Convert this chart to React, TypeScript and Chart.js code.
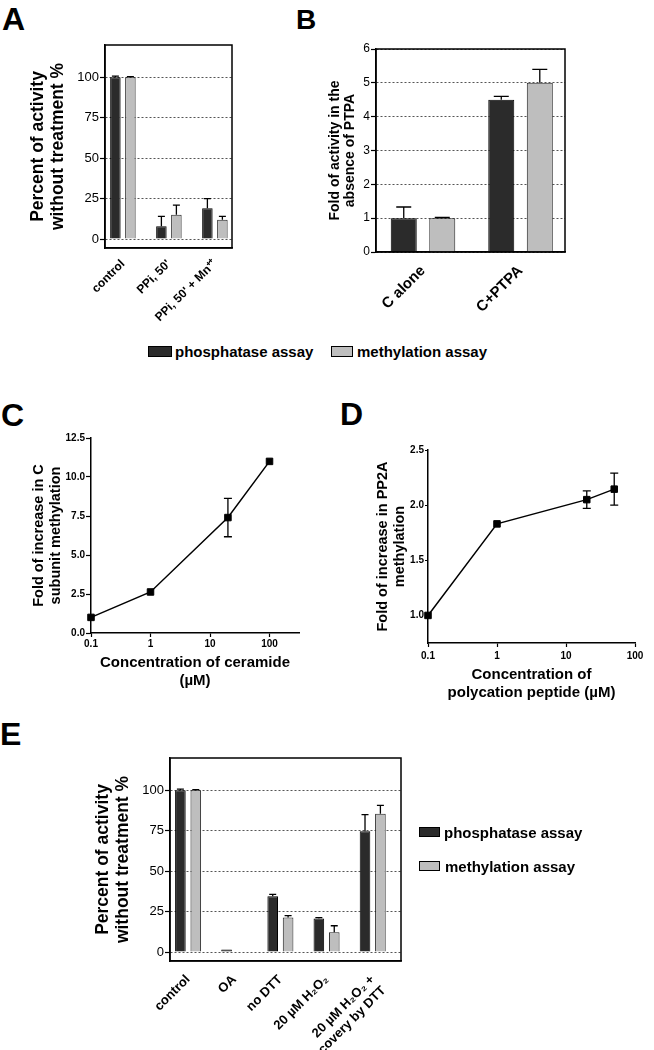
import React, { useEffect, useRef } from 'react';
import { Chart, registerables } from 'chart.js';

Chart.register(...registerables);

const FONT = "'Liberation Sans', Arial, Helvetica, sans-serif";
Chart.defaults.font.family = FONT;
Chart.defaults.color = '#000';

// ---------------- data ----------------
const seriesNames = ['phosphatase assay', 'methylation assay'];

// Panel A
const aCategories = ['control', "PPi, 50'", "PPi, 50' + Mn⁺⁺"];
const aPhosphatase = [100, 8, 19];
const aPhosphataseErr = [0.8, 6, 6];
const aMethylation = [100, 15, 12];
const aMethylationErr = [0.5, 6, 2];
const aYTicks = [0, 25, 50, 75, 100];

// Panel B
const bCategories = ['C alone', 'C+PTPA'];
const bPhosphatase = [1.0, 4.5];
const bPhosphataseErr = [0.33, 0.1];
const bMethylation = [1.0, 5.0];
const bMethylationErr = [0.02, 0.4];
const bYTicks = [0, 1, 2, 3, 4, 5, 6];

// Panel C
const cConcentration = [0.1, 1, 20, 100];
const cFold = [1.0, 2.63, 7.4, 11.0];
const cFoldErr = [0, 0, 1.23, 0];
const cXTicks = [0.1, 1, 10, 100];
const cYTicks = [0, 2.5, 5, 7.5, 10, 12.5];

// Panel D
const dConcentration = [0.1, 1, 20, 50];
const dFold = [1.0, 1.83, 2.05, 2.145];
const dFoldErr = [0, 0, 0.08, 0.145];
const dXTicks = [0.1, 1, 10, 100];
const dYTicks = [1.0, 1.5, 2.0, 2.5];

// Panel E
const eCategories: (string | string[])[] = [
  'control',
  'OA',
  'no DTT',
  '20 µM H₂O₂',
  ['20 µM H₂O₂ +', 'recovery by DTT'],
];
const ePhosphatase = [100, 1.6, 34.6, 20.8, 74.7];
const ePhosphataseErr = [0.8, 0, 1.1, 0.5, 10.3];
const eMethylation = [100, 0.3, 21.4, 12.3, 85.6];
const eMethylationErr = [0.5, 0, 1.1, 4, 5.1];
const eYTicks = [0, 25, 50, 75, 100];

const DARK = '#2b2b2b';
const LIGHT = '#bebebe';

// ---------------- plugins ----------------
const framePlugin = {
  id: 'frameBox',
  afterDatasetsDraw(chart: any) {
    const { left, top, right, bottom } = chart.chartArea;
    const ctx = chart.ctx;
    ctx.save();
    ctx.setLineDash([]);
    ctx.lineWidth = 1.5;
    ctx.strokeStyle = '#000';
    ctx.strokeRect(left, top, right - left, bottom - top);
    ctx.restore();
  },
};

function errorBarPlugin(cap: number, both: boolean) {
  return {
    id: 'errorBars',
    afterDatasetsDraw(chart: any) {
      const ctx = chart.ctx;
      const ys = chart.scales.y;
      ctx.save();
      ctx.setLineDash([]);
      ctx.strokeStyle = '#000';
      ctx.lineWidth = 1.3;
      chart.data.datasets.forEach((ds: any, di: number) => {
        const errs = ds.errorBars;
        if (!errs) return;
        const meta = chart.getDatasetMeta(di);
        meta.data.forEach((el: any, i: number) => {
          const e = errs[i];
          if (!e) return;
          const v = ds.data[i].y;
          const top = ys.getPixelForValue(v + e);
          const bot = ys.getPixelForValue(both ? v - e : v);
          const x = el.x;
          const h = cap / 2;
          ctx.beginPath();
          ctx.moveTo(x, bot);
          ctx.lineTo(x, top);
          ctx.moveTo(x - h, top);
          ctx.lineTo(x + h, top);
          if (both) {
            ctx.moveTo(x - h, bot);
            ctx.lineTo(x + h, bot);
          }
          ctx.stroke();
        });
      });
      ctx.restore();
    },
  };
}

// ---------------- config builders ----------------
type BarPanel = {
  categories: (string | string[])[];
  phos: number[];
  phosErr: number[];
  meth: number[];
  methErr: number[];
  yTicks: number[];
  yMin: number;
  yMax: number;
  xMin: number;
  xMax: number;
  yWidth: number;
  xHeight: number;
  padTop: number;
  padRight: number;
  catPct: number;
  barPct: number;
  cap: number;
  yTitle: string[];
  yTitleFont: any;
  yTitlePad: number;
  yTickFont: any;
  tickLen: number;
  tickPad: number;
  xFont: any;
  xPad: number;
};

function barConfig(p: BarPanel): any {
  const ds = (label: string, vals: number[], errs: number[], color: string, border: string) => ({
    label,
    data: vals.map((y, i) => ({ x: i, y })),
    backgroundColor: color,
    borderColor: border,
    borderWidth: 1,
    categoryPercentage: p.catPct,
    barPercentage: p.barPct,
    errorBars: errs,
  });
  return {
    type: 'bar',
    data: {
      datasets: [
        ds(seriesNames[0], p.phos, p.phosErr, DARK, '#000'),
        ds(seriesNames[1], p.meth, p.methErr, LIGHT, '#222'),
      ],
    },
    options: {
      animation: false,
      responsive: false,
      devicePixelRatio: 1,
      layout: { padding: { top: p.padTop, right: p.padRight, left: 0, bottom: 0 } },
      plugins: { legend: { display: false }, tooltip: { enabled: false } },
      scales: {
        x: {
          type: 'linear',
          min: p.xMin,
          max: p.xMax,
          offset: false,
          afterBuildTicks: (s: any) => {
            s.ticks = p.categories.map((_, i) => ({ value: i }));
          },
          afterFit: (s: any) => {
            s.height = p.xHeight;
          },
          grid: { display: false },
          border: { display: true, color: '#000', width: 1.5 },
          ticks: {
            autoSkip: false,
            minRotation: 45,
            maxRotation: 45,
            font: p.xFont,
            color: '#000',
            padding: p.xPad,
            callback: (v: any) => p.categories[v],
          },
        },
        y: {
          min: p.yMin,
          max: p.yMax,
          afterBuildTicks: (s: any) => {
            s.ticks = p.yTicks.map((v) => ({ value: v }));
          },
          afterFit: (s: any) => {
            s.width = p.yWidth;
          },
          grid: {
            color: '#555',
            lineWidth: 1,
            drawTicks: true,
            tickLength: p.tickLen,
            tickColor: '#000',
            tickWidth: 1.2,
            tickBorderDash: [],
            borderDash: [2, 2],
          },
          border: { display: true, color: '#000', width: 1.5, dash: [2, 2] },
          ticks: { font: p.yTickFont, color: '#000', padding: p.tickPad, callback: (v: any) => String(v) },
          title: {
            display: true,
            text: p.yTitle,
            font: p.yTitleFont,
            color: '#000',
            padding: { top: p.yTitlePad, bottom: 0 },
          },
        },
      },
    },
    plugins: [framePlugin, errorBarPlugin(p.cap, false)],
  };
}

type LinePanel = {
  xs: number[];
  ys: number[];
  errs: number[];
  xTicks: number[];
  yTicks: number[];
  xMin: number;
  xMax: number;
  yMin: number;
  yMax: number;
  yWidth: number;
  xHeight: number;
  padTop: number;
  padRight: number;
  yTitle: string[];
  yTitlePad: number;
  xTitle: string[];
  yTickLen: number;
  yTickPad: number;
  xTickPad: number;
};

function lineConfig(p: LinePanel): any {
  const tickFont = { size: 10, weight: 'bold' };
  return {
    type: 'line',
    data: {
      datasets: [
        {
          label: 'fold',
          data: p.xs.map((x, i) => ({ x, y: p.ys[i] })),
          borderColor: '#000',
          borderWidth: 1.5,
          backgroundColor: '#000',
          pointStyle: 'rect',
          pointRadius: 4.6,
          pointBackgroundColor: '#000',
          pointBorderColor: '#000',
          pointBorderWidth: 1,
          tension: 0,
          fill: false,
          clip: false,
          errorBars: p.errs,
        },
      ],
    },
    options: {
      animation: false,
      responsive: false,
      devicePixelRatio: 1,
      layout: { padding: { top: p.padTop, right: p.padRight, left: 0, bottom: 0 } },
      plugins: { legend: { display: false }, tooltip: { enabled: false } },
      scales: {
        x: {
          type: 'logarithmic',
          min: p.xMin,
          max: p.xMax,
          afterBuildTicks: (s: any) => {
            s.ticks = p.xTicks.map((v) => ({ value: v }));
          },
          afterFit: (s: any) => {
            s.height = p.xHeight;
          },
          grid: { drawOnChartArea: false, drawTicks: true, tickLength: 4, tickColor: '#000', tickWidth: 1.2 },
          border: { display: true, color: '#000', width: 1.5 },
          ticks: { font: tickFont, color: '#000', padding: p.xTickPad, maxRotation: 0, autoSkip: false, callback: (v: any) => String(v) },
          title: {
            display: true,
            text: p.xTitle,
            font: { size: 15, weight: 'bold', lineHeight: 1.2 },
            color: '#000',
            padding: { top: 0, bottom: 0 },
          },
        },
        y: {
          min: p.yMin,
          max: p.yMax,
          afterBuildTicks: (s: any) => {
            s.ticks = p.yTicks.map((v) => ({ value: v }));
          },
          afterFit: (s: any) => {
            s.width = p.yWidth;
          },
          grid: { drawOnChartArea: false, drawTicks: true, tickLength: p.yTickLen, tickColor: '#000', tickWidth: 1.2 },
          border: { display: true, color: '#000', width: 1.5 },
          ticks: { font: tickFont, color: '#000', padding: p.yTickPad, callback: (v: any) => Number(v).toFixed(1) },
          title: {
            display: true,
            text: p.yTitle,
            font: { size: 14.5, weight: 'bold', lineHeight: 1.17 },
            color: '#000',
            padding: { top: p.yTitlePad, bottom: 0 },
          },
        },
      },
    },
    plugins: [errorBarPlugin(8, true)],
  };
}

// ---------------- components ----------------
function ChartCanvas(props: { left: number; top: number; width: number; height: number; make: () => any }) {
  const ref = useRef<HTMLCanvasElement>(null);
  useEffect(() => {
    const chart = new Chart(ref.current as HTMLCanvasElement, props.make());
    return () => chart.destroy();
  }, []);
  return (
    <canvas
      ref={ref}
      width={props.width}
      height={props.height}
      style={{ position: 'absolute', left: props.left, top: props.top, width: props.width, height: props.height }}
    />
  );
}

function PanelLetter(props: { text: string; left: number; top: number; size: number }) {
  return (
    <div
      style={{
        position: 'absolute',
        left: props.left,
        top: props.top,
        font: `bold ${props.size}px ${FONT}`,
        lineHeight: `${props.size}px`,
        color: '#000',
      }}
    >
      {props.text}
    </div>
  );
}

function LegendItem(props: { left: number; top: number; boxW: number; boxH: number; gap: number; color: string; text: string }) {
  return (
    <div
      style={{
        position: 'absolute',
        left: props.left,
        top: props.top,
        height: 20,
        display: 'flex',
        alignItems: 'center',
        font: `bold 15px ${FONT}`,
        whiteSpace: 'nowrap',
        color: '#000',
      }}
    >
      <span
        style={{
          display: 'inline-block',
          width: props.boxW,
          height: props.boxH,
          background: props.color,
          border: '1px solid #000',
          boxSizing: 'border-box',
          marginRight: props.gap,
        }}
      />
      <span>{props.text}</span>
    </div>
  );
}

export default function App() {
  const titlePct = ['Percent of activity', 'without treatment %'];
  return (
    <div style={{ position: 'absolute', left: 0, top: 0, width: 654, height: 1050, background: '#fff', overflow: 'hidden' }}>
      <PanelLetter text="A" left={2} top={3} size={32} />
      <PanelLetter text="B" left={296} top={6} size={28} />
      <PanelLetter text="C" left={1} top={399} size={32} />
      <PanelLetter text="D" left={340} top={398} size={32} />
      <PanelLetter text="E" left={0} top={718} size={32} />

      <ChartCanvas
        left={0}
        top={30}
        width={245}
        height={310}
        make={() =>
          barConfig({
            categories: aCategories,
            phos: aPhosphatase,
            phosErr: aPhosphataseErr,
            meth: aMethylation,
            methErr: aMethylationErr,
            yTicks: aYTicks,
            yMin: -5.5,
            yMax: 120,
            xMin: -0.389,
            xMax: 2.372,
            yWidth: 105,
            xHeight: 92,
            padTop: 15,
            padRight: 13,
            catPct: 0.652,
            barPct: 0.7,
            cap: 7,
            yTitle: titlePct,
            yTitleFont: { size: 17.5, weight: 'bold', lineHeight: 1.143 },
            yTitlePad: 28.5,
            yTickFont: { size: 13 },
            tickLen: 5,
            tickPad: 1,
            xFont: { size: 12, weight: 'bold' },
            xPad: 1,
          })
        }
      />

      <ChartCanvas
        left={250}
        top={30}
        width={330}
        height={305}
        make={() =>
          barConfig({
            categories: bCategories,
            phos: bPhosphatase,
            phosErr: bPhosphataseErr,
            meth: bMethylation,
            methErr: bMethylationErr,
            yTicks: bYTicks,
            yMin: 0,
            yMax: 6,
            xMin: -0.482,
            xMax: 1.456,
            yWidth: 126,
            xHeight: 83,
            padTop: 19,
            padRight: 15,
            catPct: 0.79,
            barPct: 0.675,
            cap: 15,
            yTitle: ['Fold of activity in the', 'absence of PTPA'],
            yTitleFont: { size: 14, weight: 'bold', lineHeight: 1.05 },
            yTitlePad: 77.6,
            yTickFont: { size: 12 },
            tickLen: 5,
            tickPad: 1,
            xFont: { size: 15, weight: 'bold' },
            xPad: 2,
          })
        }
      />

      <LegendItem left={148} top={341} boxW={24} boxH={11} gap={3} color={DARK} text={seriesNames[0]} />
      <LegendItem left={331} top={341} boxW={22} boxH={11} gap={4} color={LIGHT} text={seriesNames[1]} />

      <ChartCanvas
        left={0}
        top={420}
        width={320}
        height={270}
        make={() =>
          lineConfig({
            xs: cConcentration,
            ys: cFold,
            errs: cFoldErr,
            xTicks: cXTicks,
            yTicks: cYTicks,
            xMin: 0.1,
            xMax: 313,
            yMin: 0,
            yMax: 12.5,
            yWidth: 91,
            xHeight: 57,
            padTop: 18,
            padRight: 21,
            yTitle: ['Fold of increase in C', 'subunit methylation'],
            yTitlePad: 30.2,
            xTitle: ['Concentration of ceramide', '(µM)'],
            yTickLen: 5,
            yTickPad: 1,
            xTickPad: 1,
          })
        }
      />

      <ChartCanvas
        left={320}
        top={420}
        width={334}
        height={282}
        make={() =>
          lineConfig({
            xs: dConcentration,
            ys: dFold,
            errs: dFoldErr,
            xTicks: dXTicks,
            yTicks: dYTicks,
            xMin: 0.1,
            xMax: 100,
            yMin: 0.75,
            yMax: 2.5,
            yWidth: 108,
            xHeight: 59,
            padTop: 30,
            padRight: 19,
            yTitle: ['Fold of increase in PP2A', 'methylation'],
            yTitlePad: 54.2,
            xTitle: ['Concentration of', 'polycation peptide (µM)'],
            yTickLen: 3,
            yTickPad: 1,
            xTickPad: 3,
          })
        }
      />

      <ChartCanvas
        left={0}
        top={740}
        width={426}
        height={310}
        make={() =>
          barConfig({
            categories: eCategories,
            phos: ePhosphatase,
            phosErr: ePhosphataseErr,
            meth: eMethylation,
            methErr: eMethylationErr,
            yTicks: eYTicks,
            yMin: -5.5,
            yMax: 120,
            xMin: -0.392,
            xMax: 4.613,
            yWidth: 170,
            xHeight: 89,
            padTop: 18,
            padRight: 25,
            catPct: 0.667,
            barPct: 0.69,
            cap: 7,
            yTitle: titlePct,
            yTitleFont: { size: 17.5, weight: 'bold', lineHeight: 1.143 },
            yTitlePad: 93.5,
            yTickFont: { size: 13 },
            tickLen: 5,
            tickPad: 1,
            xFont: { size: 13, weight: 'bold' },
            xPad: 3,
          })
        }
      />

      <LegendItem left={419} top={822} boxW={21} boxH={10} gap={4} color={DARK} text={seriesNames[0]} />
      <LegendItem left={419} top={856} boxW={21} boxH={10} gap={5} color={LIGHT} text={seriesNames[1]} />
    </div>
  );
}
